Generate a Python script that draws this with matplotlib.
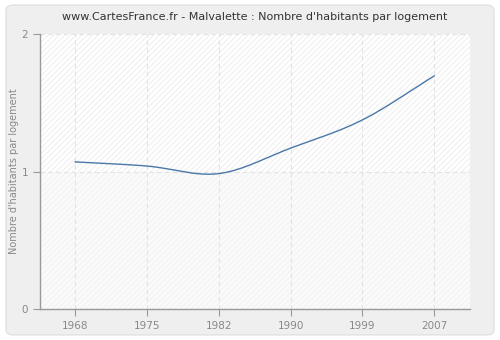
import numpy as np
import matplotlib.pyplot as plt
from matplotlib.patches import Rectangle, FancyBboxPatch

years = ['1968', '1975', '1982', '1990', '1999', '2007']
values = [1.07, 1.04, 0.985, 1.17, 1.375, 1.695]

title = "www.CartesFrance.fr - Malvalette : Nombre d'habitants par logement"
ylabel = "Nombre d'habitants par logement"


def smooth(x, y, n=30):
    # cardinal spline through the points, for a soft curve like the site draws
    x = np.asarray(x, float)
    y = np.asarray(y, float)
    m = np.zeros_like(y)
    m[1:-1] = (y[2:] - y[:-2]) / (x[2:] - x[:-2])
    m[0] = y[1] - y[0]
    m[-1] = y[-1] - y[-2]
    xs, ys = [], []
    for i in range(len(x) - 1):
        t = np.linspace(0, 1, n)
        h = x[i + 1] - x[i]
        h00 = 2 * t**3 - 3 * t**2 + 1
        h10 = t**3 - 2 * t**2 + t
        h01 = -2 * t**3 + 3 * t**2
        h11 = t**3 - t**2
        xs.extend(x[i] + t * h)
        ys.extend(h00 * y[i] + h10 * h * m[i] + h01 * y[i + 1] + h11 * h * m[i + 1])
    return np.array(xs), np.array(ys)


plt.rcParams['hatch.linewidth'] = 0.6

fig = plt.figure(figsize=(5, 3.4), dpi=100)
fig.patch.set_facecolor('#ffffff')
frame = FancyBboxPatch((0.012, 0.015), 0.976, 0.97,
                       boxstyle='round,pad=0,rounding_size=0.015',
                       transform=fig.transFigure, facecolor='#efefef',
                       edgecolor='#e2e2e2', linewidth=1, zorder=-10)
fig.patches.append(frame)

ax = fig.add_axes([0.08, 0.091, 0.86, 0.809])
ax.set_facecolor('#fbfbfb')
# hatched background, a bit stronger above 1 than below
ax.add_patch(Rectangle((0, 0.5), 1, 0.5, transform=ax.transAxes, facecolor='#ffffff',
                       edgecolor='#ebebeb', hatch='//////', linewidth=0, zorder=0))
ax.add_patch(Rectangle((0, 0), 1, 0.5, transform=ax.transAxes, facecolor='#fafafa',
                       edgecolor='#f1f1f1', hatch='//////', linewidth=0, zorder=0))

x = np.arange(len(years))
sx, sy = smooth(x, values)
ax.plot(sx, sy, color='#4a78a8', linewidth=1.0, zorder=3)

ax.set_xlim(-0.49, 5.5)
ax.set_ylim(0, 2)
ax.set_xticks(x)
ax.set_xticklabels(years)
ax.set_yticks([0, 1, 2])

for xi in x:
    ax.axvline(xi, color='#e2e2e2', linestyle=(0, (4, 3)), linewidth=0.8, zorder=1)
for yv in [1, 2]:
    ax.axhline(yv, color='#e2e2e2', linestyle=(0, (4, 3)), linewidth=0.8, zorder=1)

for s in ['top', 'right']:
    ax.spines[s].set_visible(False)
for s in ['left', 'bottom']:
    ax.spines[s].set_color('#999999')
    ax.spines[s].set_linewidth(1.0)

ax.tick_params(colors='#999999', labelcolor='#888888', labelsize=7.5, length=5, width=0.8)
ax.set_ylabel(ylabel, color='#888888', fontsize=7, labelpad=2)
ax.set_title(title, fontsize=8, color='#333333', pad=10)

fig.savefig('out.png', dpi=100, facecolor=fig.get_facecolor())
